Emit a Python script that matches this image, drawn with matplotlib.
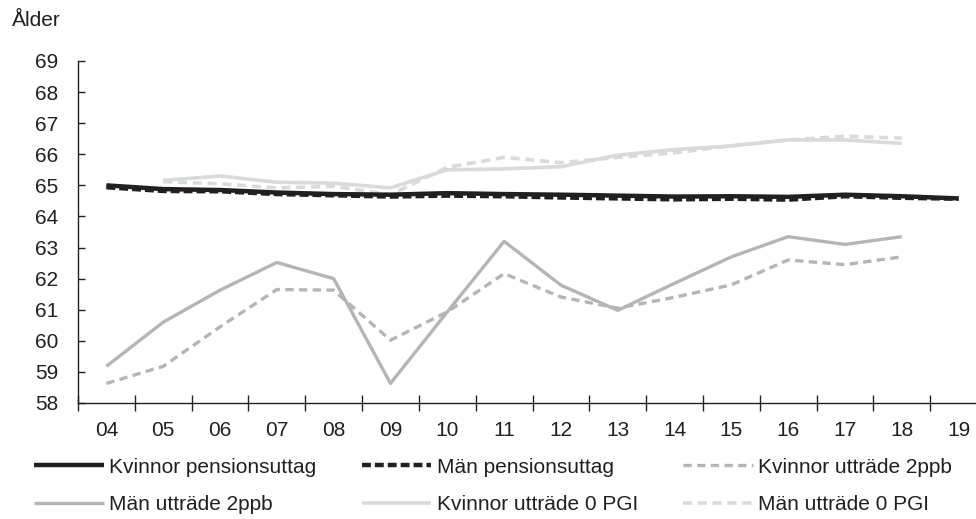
import matplotlib
matplotlib.use("Agg")
import matplotlib.pyplot as plt
import numpy as np

years = ["04", "05", "06", "07", "08", "09", "10", "11", "12", "13", "14", "15", "16", "17", "18", "19"]
kv_pension = [65.0, 64.88, 64.85, 64.77, 64.72, 64.7, 64.75, 64.72, 64.7, 64.67, 64.64, 64.65, 64.63, 64.7, 64.65, 64.58]
man_pension = [64.94, 64.82, 64.81, 64.72, 64.68, 64.64, 64.67, 64.65, 64.61, 64.58, 64.55, 64.57, 64.54, 64.65, 64.6, 64.57]
kv_2ppb = [58.63, 59.18, 60.45, 61.65, 61.63, 60.02, 60.93, 62.16, 61.41, 61.05, 61.4, 61.8, 62.6, 62.45, 62.7, None]
man_2ppb = [59.18, 60.6, 61.63, 62.52, 62.0, 58.63, 60.93, 63.2, 61.79, 60.98, 61.85, 62.7, 63.35, 63.1, 63.35, None]
kv_0pgi = [None, 65.16, 65.3, 65.1, 65.07, 64.92, 65.5, 65.53, 65.6, 65.97, 66.15, 66.27, 66.46, 66.46, 66.35, None]
man_0pgi = [None, 65.12, 65.05, 64.92, 64.97, 64.7, 65.58, 65.9, 65.73, 65.9, 66.05, 66.27, 66.46, 66.58, 66.52, None]

labels = ["Kvinnor pensionsuttag", "Män pensionsuttag", "Kvinnor utträde 2ppb",
          "Män utträde 2ppb", "Kvinnor utträde 0 PGI", "Män utträde 0 PGI"]

plt.rcParams['font.family'] = ['Liberation Sans', 'DejaVu Sans']

W, H = 976, 519
fig = plt.figure(figsize=(W / 100, H / 100), dpi=100)
ax = fig.add_axes([78 / W, 1 - 403 / H, (987 - 78) / W, (403 - 61) / H])

x = np.arange(len(years))

def arr(v):
    return np.array([np.nan if a is None else a for a in v], dtype=float)

black = "#231f20"
mid = "#b5b5b8"
light = "#d9dadb"
FS = 15

series = [
    (kv_pension, black, "-", 3.2),
    (man_pension, black, (0, (2.0, 0.9)), 3.2),
    (kv_2ppb, mid, (0, (2.5, 1.6)), 2.4),
    (man_2ppb, mid, "-", 2.4),
    (kv_0pgi, light, "-", 2.6),
    (man_0pgi, light, (0, (2.5, 1.6)), 2.6),
]
order = [4, 5, 3, 2, 1, 0]
handles = [None] * 6
for i in order:
    vals, c, ls, lw = series[i]
    ln, = ax.plot(x, arr(vals), color=c, linestyle=ls, linewidth=lw, label=labels[i],
                  solid_capstyle="butt", dash_capstyle="butt")
    handles[i] = ln

ax.set_xlim(-0.5, len(years) - 0.5)
ax.set_ylim(58, 69)
ax.set_yticks(np.arange(58, 70, 1))
ax.tick_params(axis="y", direction="in", length=5, width=1, colors=black, labelsize=FS, pad=14)
ax.set_xticks(np.arange(-0.5, len(years), 1))
ax.set_xticklabels([])
ax.tick_params(axis="x", which="major", direction="inout", length=12, width=1, colors=black)
ax.set_xticks(x, minor=True)
ax.set_xticklabels(years, minor=True)
ax.tick_params(axis="x", which="minor", length=0, labelsize=FS, pad=13, labelcolor=black)
for lab in ax.get_yticklabels():
    lab.set_color(black)

for s in ["top", "right"]:
    ax.spines[s].set_visible(False)
for s in ["left", "bottom"]:
    ax.spines[s].set_color(black)
    ax.spines[s].set_linewidth(1.0)

fig.text(12 / W, 1 - 20 / H, "Ålder", fontsize=FS, color=black, va="center", ha="left")

# row-major order for a 3-column legend (matplotlib fills column-wise)
leg_idx = [0, 3, 1, 4, 2, 5]
leg = fig.legend(handles=[handles[i] for i in leg_idx], labels=[labels[i] for i in leg_idx],
                 ncol=3, loc="center left",
                 bbox_to_anchor=(34 / W, 1 - 486 / H), frameon=False, fontsize=FS,
                 handlelength=3.35, handletextpad=0.25, columnspacing=2.18,
                 labelspacing=0.9, borderaxespad=0, borderpad=0)
for t in leg.get_texts():
    t.set_color(black)

fig.savefig("out.png", dpi=100)
